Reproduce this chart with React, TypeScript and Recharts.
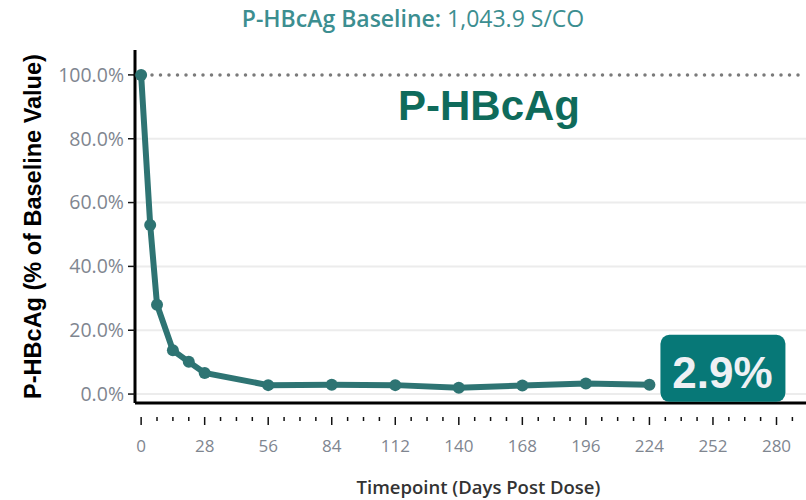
import React from "react";
import {
  LineChart,
  Line,
  XAxis,
  YAxis,
  CartesianGrid,
  ReferenceLine,
  ReferenceDot,
} from "recharts";

// P-HBcAg — % of baseline over days post dose
const days = [0, 4, 7, 14, 21, 28, 56, 84, 112, 140, 168, 196, 224];
const pctOfBaseline = [100, 53, 28, 13.7, 10.1, 6.6, 2.8, 2.9, 2.8, 2.0, 2.7, 3.3, 2.9];
const xTicks = [0, 7, 14, 21, 28, 35, 42, 49, 56, 63, 70, 77, 84, 91, 98, 105, 112, 119, 126, 133, 140, 147, 154, 161, 168, 175, 182, 189, 196, 203, 210, 217, 224, 231, 238, 245, 252, 259, 266, 273, 280, 287];
const xLabelEvery = 28;
const yTicks = [0, 20, 40, 60, 80, 100];
const lastValue = "2.9%";

const data = days.map((d, i) => ({ day: d, pct: pctOfBaseline[i] }));

const TEAL = "#2e7473";
const GRAY = "#7f8690";
const FONT = "'Open Sans', sans-serif";

function XTick(props: any) {
  const { x, y, payload } = props;
  const major = payload.value % xLabelEvery === 0;
  return (
    <g>
      <line x1={x} x2={x} y1={y + 6} y2={y + (major ? 14 : 10)} stroke="#111" strokeWidth={1.5} />
      {major && (
        <text x={x} y={y + 41} textAnchor="middle" fill={GRAY} fontSize={17} fontFamily={FONT}>
          {payload.value}
        </text>
      )}
    </g>
  );
}

function LastBox(props: any) {
  const { viewBox } = props;
  const cx = viewBox.x;
  const cy = viewBox.y;
  return (
    <g>
      <rect x={cx + 11} y={cy - 50} width={125} height={67} rx={9} fill="#077877" />
      <text
        x={cx + 73}
        y={cy + 3}
        textAnchor="middle"
        fill="#eef0f4"
        fontSize={44}
        fontWeight="bold"
        fontFamily="'Liberation Sans', Arial, sans-serif"
      >
        {lastValue}
      </text>
    </g>
  );
}

export default function App() {
  return (
    <div style={{ position: "absolute", left: 0, top: 0, width: 806, height: 500, background: "#fff" }}>
      <div
        style={{
          position: "absolute",
          left: 0,
          top: 3,
          width: 826,
          textAlign: "center",
          fontFamily: FONT,
          fontSize: 23,
          lineHeight: "31px",
          color: "#3c8e90",
        }}
      >
        <span style={{ fontWeight: 600 }}>P-HBcAg Baseline: </span>
        <span>1,043.9 S/CO</span>
      </div>
      <LineChart
        width={806}
        height={500}
        data={data}
        margin={{ top: 50, right: 0, left: 0, bottom: 0 }}
      >
        <CartesianGrid
          vertical={false}
          stroke="#ececec"
          strokeWidth={2}
          horizontalValues={[0, 20, 40, 60, 80]}
        />
        <XAxis
          dataKey="day"
          type="number"
          domain={[-2.7, 293]}
          allowDataOverflow
          ticks={xTicks}
          interval={0}
          tick={<XTick />}
          tickLine={false}
          axisLine={{ stroke: "#000", strokeWidth: 3 }}
          height={97}
          label={{
            value: "Timepoint (Days Post Dose)",
            position: "center",
            dx: 8,
            dy: 36,
            fill: "#333",
            fontSize: 18.5,
            fontWeight: 600,
            fontFamily: FONT,
          }}
        />
        <YAxis
          type="number"
          domain={[-2.8, 107.8]}
          allowDataOverflow
          ticks={yTicks}
          interval={0}
          width={135}
          tickFormatter={(v: number) => v.toFixed(1) + "%"}
          tick={{ fill: GRAY, fontSize: 19.5, fontFamily: FONT, dx: -2 }}
          tickLine={{ stroke: "#111", strokeWidth: 1.5 }}
          tickSize={7}
          axisLine={{ stroke: "#000", strokeWidth: 3 }}
          label={{
            value: "P-HBcAg (% of Baseline Value)",
            angle: -90,
            position: "center",
            dx: -35,
            fill: "#000",
            fontSize: 23.5,
            fontWeight: "bold",
            fontFamily: "'Liberation Sans', Arial, sans-serif",
          }}
        />
        <ReferenceLine
          y={100}
          stroke="#7a7a7a"
          strokeWidth={3.5}
          strokeDasharray="0 8.5"
          strokeLinecap="round"
        />
        <Line
          type="linear"
          dataKey="pct"
          stroke={TEAL}
          strokeWidth={6}
          dot={{ r: 6, fill: TEAL, stroke: TEAL, strokeWidth: 0 }}
          isAnimationActive={false}
        />
        <ReferenceDot
          x={days[days.length - 1]}
          y={pctOfBaseline[pctOfBaseline.length - 1]}
          r={0}
          stroke="none"
          fill="none"
          label={<LastBox />}
        />
      </LineChart>
      <div
        style={{
          position: "absolute",
          left: 398,
          top: 82,
          fontFamily: "'Liberation Sans', Arial, sans-serif",
          fontWeight: "bold",
          fontSize: 42,
          color: "#0f6b5b",
        }}
      >
        P-HBcAg
      </div>
    </div>
  );
}
